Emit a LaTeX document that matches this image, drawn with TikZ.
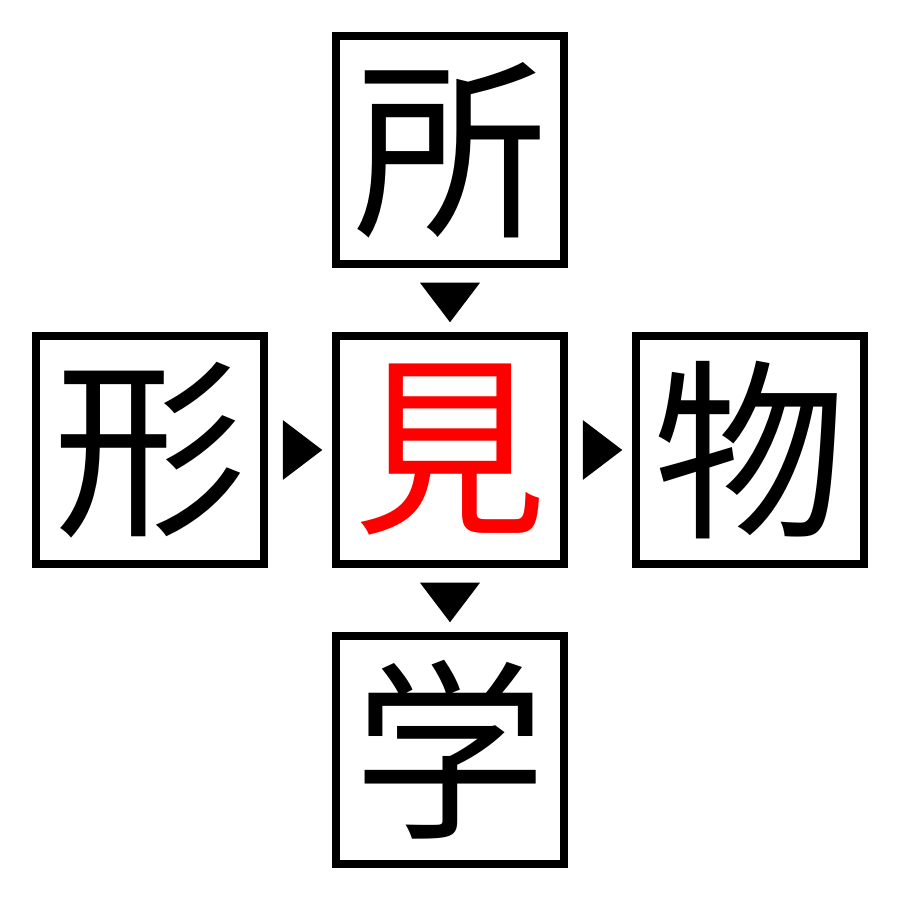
\documentclass[tikz,border=0pt]{standalone}
\usepackage{fontspec}
\newfontfamily\cjk{Noto Sans CJK JP}
\usetikzlibrary{positioning}
\usetikzlibrary{calc}

\tikzset{
  kanji/.style={draw=black,line width=0.075cm,line join=miter,minimum size=2.28cm,inner sep=0pt,
    font=\cjk\fontsize{55}{55}\selectfont},
  tri/.style={fill=black}
}

\begin{document}
\begin{tikzpicture}[line cap=round,line join=round,x=1cm,y=1cm]
\useasboundingbox (0,0) rectangle (9,9);
\node[kanji] (sho) at (4.5,7.5) {所};
\node[kanji] (kata) at (1.5,4.5) {形};
\node[kanji,text=red] (mi) at (4.5,4.5) {見};
\node[kanji] (mono) at (7.5,4.5) {物};
\node[kanji] (gaku) at (4.5,1.5) {学};
% arrows between boxes
\fill[tri] ($(sho.south)+(-0.3,-0.15)$) -- ($(sho.south)+(0.3,-0.15)$) -- ($(mi.north)+(0,0.1)$) -- cycle;
\fill[tri] ($(kata.east)+(0.15,0.3)$) -- ($(kata.east)+(0.15,-0.3)$) -- ($(mi.west)+(-0.1,0)$) -- cycle;
\fill[tri] ($(mi.east)+(0.15,0.3)$) -- ($(mi.east)+(0.15,-0.3)$) -- ($(mono.west)+(-0.1,0)$) -- cycle;
\fill[tri] ($(mi.south)+(-0.3,-0.15)$) -- ($(mi.south)+(0.3,-0.15)$) -- ($(gaku.north)+(0,0.1)$) -- cycle;
\end{tikzpicture}
\end{document}
